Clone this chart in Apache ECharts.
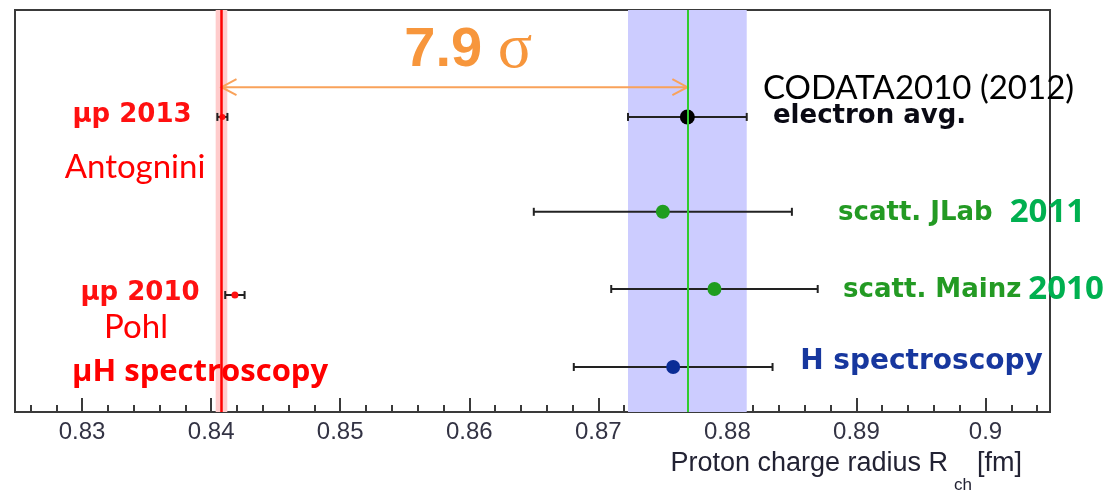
<!DOCTYPE html>
<html>
<head>
<meta charset="utf-8">
<script src="https://cdn.jsdelivr.net/npm/echarts@6/dist/echarts.min.js"></script>
<style>
  html, body { margin: 0; padding: 0; background: #ffffff; }
  #chart { width: 1118px; height: 494px; }
</style>
</head>
<body>
<div id="chart"></div>
<script>
// Proton charge radius determinations (fm), one row per measurement
const labels = ['μp 2013', 'electron avg.', 'scatt. JLab 2011', 'scatt. Mainz 2010', 'μp 2010', 'H spectroscopy'];
const radius = [0.84087, 0.8769, 0.8750, 0.8790, 0.84184, 0.8758];
const uncertainty = [0.00039, 0.0046, 0.0100, 0.0080, 0.00075, 0.0077];
const rowPos = [73.4, 73.4, 49.8, 30.6, 29.1, 11.2];

// Reference values: muonic hydrogen line and electron average band
const muonicValue = 0.8408;
const muonicHalfWidth = 0.00045;
const electronValue = 0.8769;
const electronHalfWidth = 0.0046;
const arrowRow = 80.8;
const sigmaValue = '7.9';

// Axis tick labels
const tickValues = [0.83, 0.84, 0.85, 0.86, 0.87, 0.88, 0.89, 0.90];
const tickLabels = ['0.83', '0.84', '0.85', '0.86', '0.87', '0.88', '0.89', '0.9'];

// ---- styles ----
const pointStyle = [
  { color: '#ff1010', size: 6 },
  { color: '#000000', size: 15 },
  { color: '#1f9d1f', size: 14 },
  { color: '#1f9d1f', size: 14 },
  { color: '#ff1010', size: 7 },
  { color: '#0a2c96', size: 14 }
];
const rootFont = { fontFamily: 'DejaVu Sans', fontWeight: 'bold', fontSize: 26 };
const officeFont = { fontFamily: 'Lato', fontSize: 33 };
const officeBold = { fontFamily: 'Open Sans', fontWeight: 'bold' };

const notes = [
  { x: 0.83387, y: 73.9, pos: 'inside', text: '{r|μp 2013}' },
  { x: 0.83410, y: 60.9, pos: 'inside', text: '{o|Antognini}' },
  { x: 0.83449, y: 29.6, pos: 'inside', text: '{r|μp 2010}' },
  { x: 0.83418, y: 21.1, pos: 'inside', text: '{o|Pohl}' },
  { x: 0.83914, y: 9.95, pos: 'inside', text: '{ob|μH spectroscopy}' },
  { x: 0.89481, y: 80.6, pos: 'inside', text: '{k|CODATA2010 (2012)}' },
  { x: 0.89102, y: 73.6, pos: 'inside', text: '{e|electron avg.}' },
  { x: 0.88854, y: 49.5, pos: 'right', text: '{g|scatt. JLab}{gyWide|2011}' },
  { x: 0.88893, y: 30.35, pos: 'right', text: '{g|scatt. Mainz}{gyNarrow|2010}' },
  { x: 0.88560, y: 12.4, pos: 'right', text: '{b|H spectroscopy}' },
  { x: 0.85493, y: 90.0, pos: 'right', text: '{n|' + sigmaValue + ' }{s|σ}' }
];

const rich = {
  r: Object.assign({ color: '#ff1010' }, rootFont),
  e: Object.assign({ color: '#0a0a14' }, rootFont),
  g: Object.assign({ color: '#239a23' }, rootFont),
  b: Object.assign({ color: '#17379e' }, rootFont, { fontSize: 28 }),
  o: Object.assign({ color: '#ff0000' }, officeFont),
  ob: Object.assign({ color: '#ff0000', fontSize: 31 }, officeBold),
  k: Object.assign({ color: '#000000' }, officeFont),
  gyWide: Object.assign({ color: '#00b050', fontSize: 33, padding: [0, 0, 0, 17] }, officeBold),
  gyNarrow: Object.assign({ color: '#00b050', fontSize: 33, padding: [0, 0, 0, 7] }, officeBold),
  n: { color: '#f7963c', fontFamily: 'Liberation Sans', fontWeight: 'bold', fontSize: 56 },
  s: { color: '#f7963c', fontFamily: 'Liberation Serif', fontSize: 64 }
};

const frameColor = '#3a3a3a';

const chart = echarts.init(document.getElementById('chart'), null, { renderer: 'canvas' });

chart.setOption({
  animation: false,
  backgroundColor: '#ffffff',
  grid: {
    left: 15, right: 68, top: 10, bottom: 82,
    show: true, borderColor: frameColor, borderWidth: 2, backgroundColor: 'transparent'
  },
  xAxis: {
    type: 'value',
    min: 0.8248,
    max: 0.905,
    splitNumber: 8,
    axisLine: { lineStyle: { color: frameColor, width: 2 } },
    axisTick: { inside: true, length: 14, lineStyle: { color: frameColor, width: 2 } },
    minorTick: { show: true, splitNumber: 5, length: 7, lineStyle: { color: frameColor, width: 2 } },
    splitLine: { show: false },
    minorSplitLine: { show: false },
    axisLabel: {
      margin: 8,
      color: '#333344',
      fontFamily: 'Liberation Sans',
      fontSize: 24,
      formatter: function (v) {
        const i = tickValues.findIndex(t => Math.abs(t - v) < 1e-7);
        return i < 0 ? '' : tickLabels[i];
      }
    },
    name: '{a|Proton charge radius R}{c|ch}{a|[fm]}',
    nameLocation: 'end',
    nameGap: -28,
    nameTextStyle: {
      align: 'right',
      verticalAlign: 'top',
      padding: [38, 0, 0, 0],
      rich: {
        a: { fontFamily: 'Liberation Sans', fontSize: 27, color: '#222233', lineHeight: 44, verticalAlign: 'top' },
        c: { fontFamily: 'Liberation Sans', fontSize: 17, color: '#222233', lineHeight: 40, verticalAlign: 'bottom', padding: [0, 5, 0, 6] }
      }
    }
  },
  yAxis: { type: 'value', min: 0, max: 100, show: false },
  series: [
    {
      // shaded uncertainty bands
      type: 'line', data: [], z: 1, silent: true,
      markArea: {
        silent: true,
        data: [
          [{ xAxis: electronValue - electronHalfWidth, itemStyle: { color: '#ccccff', opacity: 1 } },
           { xAxis: electronValue + electronHalfWidth }],
          [{ xAxis: muonicValue - muonicHalfWidth, itemStyle: { color: '#ffcccc', opacity: 1 } },
           { xAxis: muonicValue + muonicHalfWidth }]
        ]
      }
    },
    {
      // central reference values
      type: 'line', data: [], z: 2, silent: true,
      markLine: {
        silent: true, symbol: ['none', 'none'], label: { show: false },
        precision: 6,
        data: [
          { xAxis: electronValue, lineStyle: { color: '#2ecc2e', width: 2, type: 'solid' } },
          { xAxis: muonicValue, lineStyle: { color: '#ff0000', width: 2.5, type: 'solid' } }
        ]
      }
    },
    {
      // horizontal error bars with end caps
      type: 'custom', z: 3, silent: true, clip: false,
      encode: { x: [0, 1], y: 2 },
      data: radius.map((r, i) => [r - uncertainty[i], r + uncertainty[i], rowPos[i]]),
      renderItem: function (params, api) {
        const y = api.value(2);
        const a = api.coord([api.value(0), y]);
        const b = api.coord([api.value(1), y]);
        const cap = 4;
        const st = { stroke: '#222222', lineWidth: 2 };
        return {
          type: 'group',
          children: [
            { type: 'line', shape: { x1: a[0], y1: a[1], x2: b[0], y2: b[1] }, style: st },
            { type: 'line', shape: { x1: a[0], y1: a[1] - cap, x2: a[0], y2: a[1] + cap }, style: st },
            { type: 'line', shape: { x1: b[0], y1: b[1] - cap, x2: b[0], y2: b[1] + cap }, style: st }
          ]
        };
      }
    },
    {
      // double-headed arrow between the two reference values
      type: 'custom', z: 3, silent: true, clip: false,
      encode: { x: [0, 1], y: 2 },
      data: [[muonicValue, electronValue, arrowRow]],
      renderItem: function (params, api) {
        const y = api.value(2);
        const a = api.coord([api.value(0), y]);
        const b = api.coord([api.value(1), y]);
        const hl = 15, hw = 8;
        const st = { stroke: '#f9a25a', lineWidth: 2, fill: null };
        return {
          type: 'group',
          children: [
            { type: 'line', shape: { x1: a[0], y1: a[1], x2: b[0], y2: b[1] }, style: st },
            { type: 'polyline', shape: { points: [[a[0] + hl, a[1] - hw], [a[0], a[1]], [a[0] + hl, a[1] + hw]] }, style: st },
            { type: 'polyline', shape: { points: [[b[0] - hl, b[1] - hw], [b[0], b[1]], [b[0] - hl, b[1] + hw]] }, style: st }
          ]
        };
      }
    },
    {
      // measured central values
      type: 'scatter', z: 4, silent: true,
      data: radius.map((r, i) => ({
        name: labels[i],
        value: [r, rowPos[i]],
        symbolSize: pointStyle[i].size,
        itemStyle: { color: pointStyle[i].color, opacity: 1 }
      }))
    },
    {
      // text annotations
      type: 'scatter', z: 5, silent: true,
      symbolSize: 1,
      itemStyle: { color: 'rgba(0,0,0,0)', opacity: 1 },
      data: notes.map(n => ({
        value: [n.x, n.y],
        label: { show: true, position: n.pos, distance: 0, opacity: 1, formatter: n.text, rich: rich }
      }))
    }
  ]
});
</script>
</body>
</html>
